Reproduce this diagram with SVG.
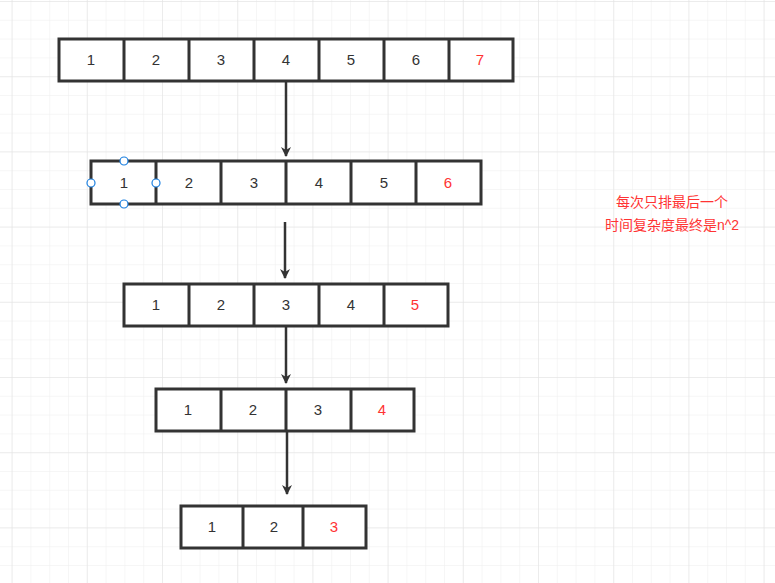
<svg xmlns="http://www.w3.org/2000/svg" width="775" height="583" viewBox="0 0 775 583">
<defs>
<pattern id="g" width="18.8" height="18.8" patternUnits="userSpaceOnUse" x="11.6" y="1"><path d="M0 0H18.8M0 0V18.8" stroke="#eeeeee" stroke-width="1" fill="none"/></pattern>
<pattern id="G" width="75.2" height="75.2" patternUnits="userSpaceOnUse" x="11.6" y="1"><path d="M0 0H75.2M0 0V75.2" stroke="#e2e2e2" stroke-width="1" fill="none"/></pattern>
<marker id="a" viewBox="0 0 10 10" refX="9" refY="5" markerWidth="4" markerHeight="4.5" orient="auto" markerUnits="strokeWidth"><path d="M0 0L10 5L0 10L3 5Z" fill="#333"/></marker>
<style>.c{fill:#fff;stroke:#333;stroke-width:3}.t{font-family:"Liberation Sans",Arial,sans-serif;font-size:15px;fill:#333;text-anchor:middle}.r{fill:#f33}.h{fill:#fff;stroke:#1a7fe0;stroke-width:1.2}.e{stroke:#333;stroke-width:2.5;fill:none;marker-end:url(#a)}</style>
</defs>
<rect width="775" height="583" fill="#fff"/>
<rect width="775" height="583" fill="url(#g)"/>
<rect width="775" height="583" fill="url(#G)"/>
<g id="connectors">
<path class="e" d="M286 82V156"/><path class="e" d="M285 222V278"/><path class="e" d="M286 327V383"/><path class="e" d="M287 432V494"/>
</g>
<g id="row1"><rect class="c" x="59" y="39" width="454" height="42"/><path class="c" d="M124 39V81M189 39V81M254 39V81M319 39V81M384 39V81M449 39V81"/>
<text class="t" x="91" y="65">1</text><text class="t" x="156" y="65">2</text><text class="t" x="221" y="65">3</text><text class="t" x="286" y="65">4</text><text class="t" x="351" y="65">5</text><text class="t" x="416" y="65">6</text><text class="t r" x="480" y="65">7</text></g>
<g id="row2"><rect class="c" x="91" y="161" width="390" height="43"/><path class="c" d="M156 161V204M221 161V204M286 161V204M351 161V204M416 161V204"/>
<text class="t" x="124" y="188">1</text><text class="t" x="189" y="188">2</text><text class="t" x="254" y="188">3</text><text class="t" x="319" y="188">4</text><text class="t" x="384" y="188">5</text><text class="t r" x="448" y="188">6</text>
<circle class="h" cx="124" cy="161" r="4"/><circle class="h" cx="91" cy="183" r="4"/><circle class="h" cx="156" cy="183" r="4"/><circle class="h" cx="124" cy="204" r="4"/></g>
<g id="row3"><rect class="c" x="124" y="284" width="324" height="42"/><path class="c" d="M189 284V326M254 284V326M319 284V326M384 284V326"/>
<text class="t" x="156" y="310">1</text><text class="t" x="221" y="310">2</text><text class="t" x="286" y="310">3</text><text class="t" x="351" y="310">4</text><text class="t r" x="415" y="310">5</text></g>
<g id="row4"><rect class="c" x="156" y="389" width="258" height="42"/><path class="c" d="M221 389V431M286 389V431M351 389V431"/>
<text class="t" x="188" y="415">1</text><text class="t" x="253" y="415">2</text><text class="t" x="318" y="415">3</text><text class="t r" x="382" y="415">4</text></g>
<g id="row5"><rect class="c" x="181" y="506" width="185" height="42"/><path class="c" d="M243 506V548M303 506V548"/>
<text class="t" x="212" y="532">1</text><text class="t" x="274" y="532">2</text><text class="t r" x="334" y="532">3</text></g>
<g id="note"><text class="t r" style="font-family:'Liberation Sans','Noto Sans CJK SC',sans-serif;font-size:14px" x="672" y="207">每次只排最后一个</text><text class="t r" style="font-family:'Liberation Sans','Noto Sans CJK SC',sans-serif;font-size:14px" x="672" y="230">时间复杂度最终是n^2</text></g>
</svg>
